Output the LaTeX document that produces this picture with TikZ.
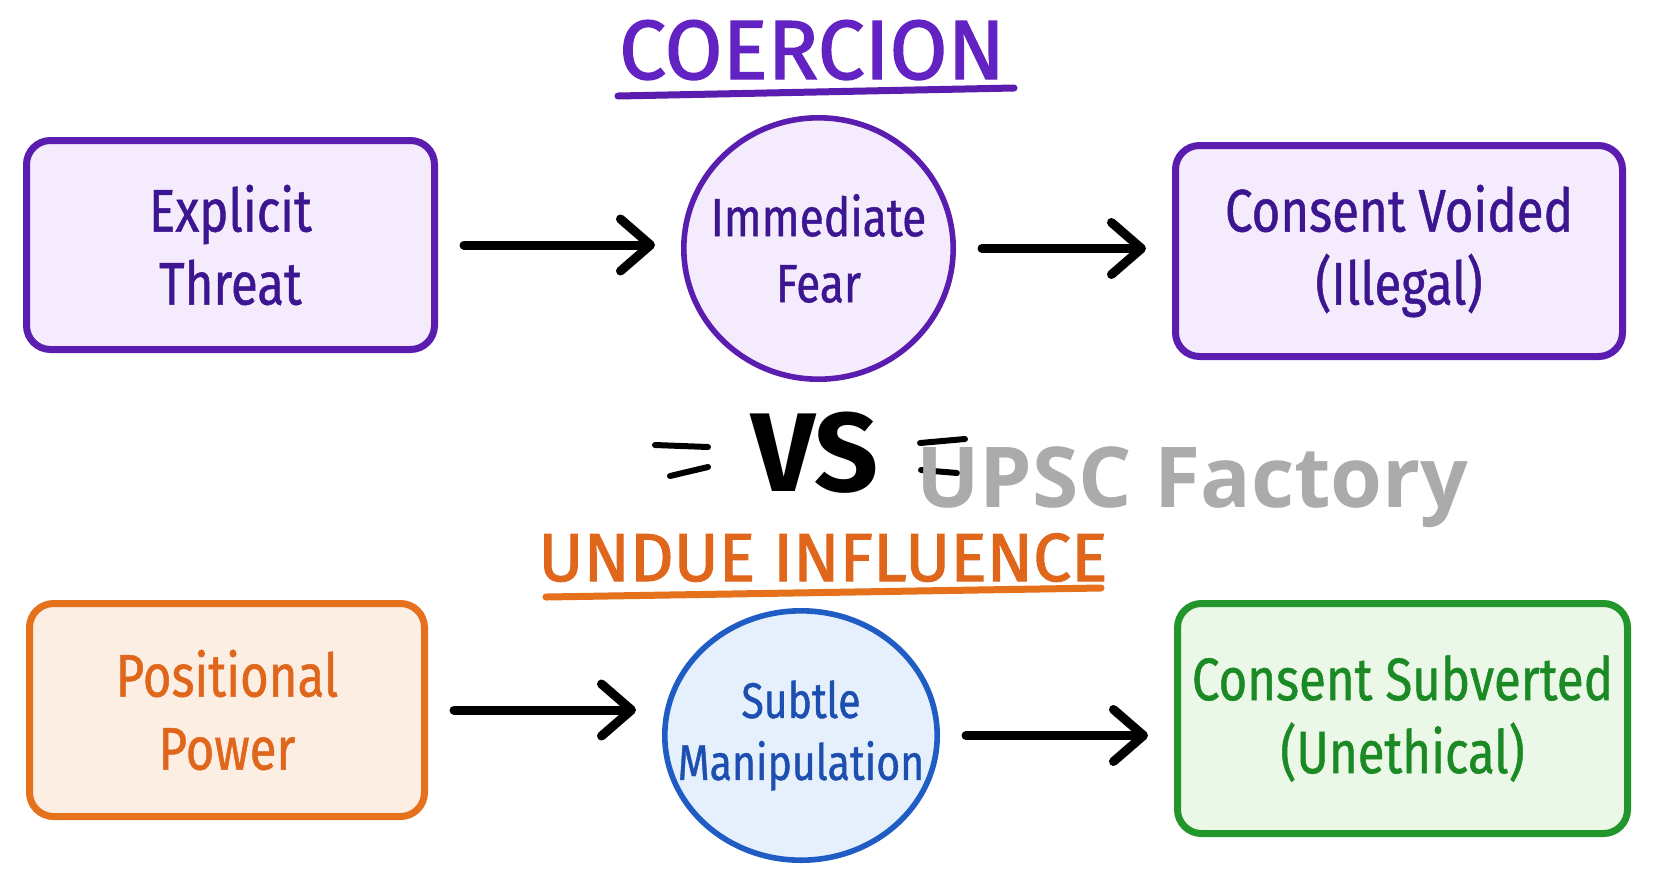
\documentclass[tikz,border=0pt]{standalone}
\usepackage{fontspec}
\usetikzlibrary{shapes.geometric,arrows.meta}
\setmainfont{Fira Sans}[FakeStretch=0.82,FakeBold=0.8]
\newfontfamily\titlefont{Fira Sans}[FakeBold=1.6]
\newfontfamily\vsfont{Fira Sans}
\newfontfamily\markfont{Open Sans}
\definecolor{coerline}{HTML}{5A1DB0}
\definecolor{coerfill}{HTML}{F4EBFC}
\definecolor{coertext}{HTML}{3C1690}
\definecolor{coertitle}{HTML}{6322C2}
\definecolor{dueline}{HTML}{E6711D}
\definecolor{duefill}{HTML}{FDEEE3}
\definecolor{duetext}{HTML}{E0661B}
\definecolor{manline}{HTML}{1F5CC4}
\definecolor{manfill}{HTML}{E5F0FC}
\definecolor{mantext}{HTML}{1C4FB0}
\definecolor{subline}{HTML}{22962B}
\definecolor{subfill}{HTML}{EBF8E8}
\definecolor{subtext}{HTML}{1B8A24}

\begin{document}
\begin{tikzpicture}
  [x=0.5pt,y=-0.5pt,
   box/.style={rectangle,rounded corners=12pt,line width=3.5pt,align=center,
     inner sep=0pt,font=\fontsize{30}{36.5}\selectfont},
   bubble/.style={ellipse,line width=2.8pt,align=center,inner xsep=-16pt,
     inner ysep=0pt,font=\fontsize{27}{33}\selectfont},
   heading/.style={font=\titlefont\fontsize{42}{42}\selectfont,anchor=base},
   link/.style={line width=4.5pt,line cap=round,shorten <=13pt,shorten >=13pt,
     -{Straight Barb[round,length=15pt,width=26pt]}}]
  \fill[white] (0,0) rectangle (1655,885);
  \useasboundingbox (0,0) rectangle (1655,885);

  % Coercion row
  \node[heading,text=coertitle] (coercion) at (812,79) {COERCION};
  \draw[coerline,line width=3.5pt,line cap=round] (618,96) -- (1014,88);
  \node[box,draw=coerline,fill=coerfill,text=coertext,
        minimum width=204pt,minimum height=104.5pt] (threat) at (230.5,245) {Explicit\\Threat};
  \node[bubble,draw=coerline,fill=coerfill,text=coertext,
        minimum width=134.7pt,minimum height=130.7pt] (fear) at (818.5,248.5) {Immediate\\Fear};
  \node[box,draw=coerline,fill=coerfill,text=coertext,
        minimum width=223.5pt,minimum height=105.5pt] (voided) at (1399,251) {Consent Voided\\(Illegal)};

  % the VS in between
  \node[font=\vsfont\bfseries\fontsize{56}{56}\selectfont] (vs) at (815,453) {VS};
  \draw[line width=3pt,line cap=round] (655,445) -- (708,447) (670,476) -- (708,467);
  \draw[line width=3pt,line cap=round] (920,443) -- (965,439) (921,470) -- (957,473);

  % Undue influence row
  \node[heading,text=duetext,font=\titlefont\fontsize{34}{34}\selectfont] (undue) at (823,581) {UNDUE INFLUENCE};
  \draw[dueline,line width=3.5pt,line cap=round] (546,597) -- (1101,588);
  \node[box,draw=dueline,fill=duefill,text=duetext,
        minimum width=197.5pt,minimum height=106.5pt] (power) at (227,710) {Positional\\Power};
  \node[bubble,draw=manline,fill=manfill,text=mantext,font=\fontsize{25}{31}\selectfont,
        minimum width=136.2pt,minimum height=124.7pt] (manip) at (801,735.5) {Subtle\\Manipulation};
  \node[box,draw=subline,fill=subfill,text=subtext,
        minimum width=225pt,minimum height=115pt] (subverted) at (1402.5,718.5) {Consent Subverted\\(Unethical)};

  \foreach \from/\to in {threat/fear,fear/voided,power/manip,manip/subverted}
    \draw[link] (\from.east) -- (\to.west |- \from.east);

  % watermark
  \node[anchor=base west,inner sep=0pt,text=black!33,
        font=\markfont\bfseries\fontsize{42}{42}\selectfont] (mark) at (916,507) {UPSC Factory};
\end{tikzpicture}
\end{document}
